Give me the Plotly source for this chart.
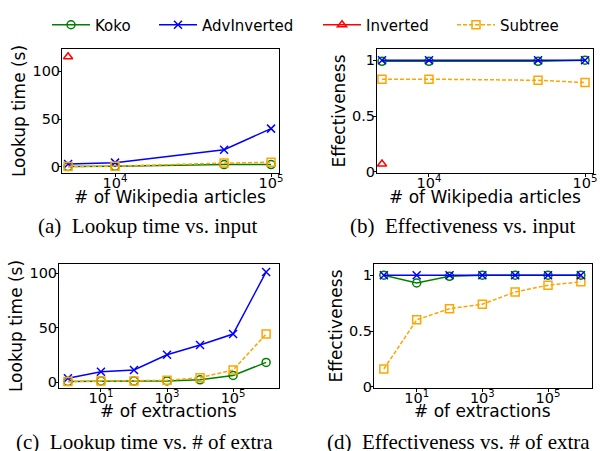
import plotly.graph_objects as go
from plotly.subplots import make_subplots

# ---- data ----
articles = [5000, 10000, 50000, 100000]
time_koko_a = [0.5, 0.7, 2.5, 2.5]
time_adv_a = [3, 4.5, 18, 40]
time_inv_a = [115, None, None, None]
time_sub_a = [0.5, 0.8, 4, 5]

eff_koko_b = [0.99, 0.99, 0.99, 1.0]
eff_adv_b = [1.0, 1.0, 1.0, 1.0]
eff_inv_b = [0.07, None, None, None]
eff_sub_b = [0.83, 0.83, 0.82, 0.80]

extractions = [1, 10, 100, 1000, 10000, 100000, 1000000]
time_koko_c = [0.5, 1, 1, 1, 2, 6, 18]
time_adv_c = [3.5, 9.5, 11, 25, 34, 44, 101]
time_sub_c = [0.5, 1, 1, 1.5, 4, 11, 44]

eff_koko_d = [1.0, 0.93, 0.99, 1.0, 1.0, 1.0, 1.0]
eff_adv_d = [1.0, 1.0, 1.0, 1.0, 1.0, 1.0, 1.0]
eff_sub_d = [0.16, 0.60, 0.70, 0.74, 0.85, 0.91, 0.94]

series_names = ["Koko", "AdvInverted", "Inverted", "Subtree"]
captions = ["(a)&nbsp; Lookup time vs. input", "(b)&nbsp; Effectiveness vs. input",
            "(c)&nbsp; Lookup time vs. # of extra", "(d)&nbsp; Effectiveness vs. # of extra"]

W, H = 600, 451
def px_x(v): return v / W
def px_y(v): return 1 - v / H

fig = make_subplots(rows=2, cols=2)

styles = {
    "Koko": dict(color="green", symbol="circle-open", dash="solid", size=8, legend="legend"),
    "AdvInverted": dict(color="blue", symbol="x-thin-open", dash="solid", size=8, legend="legend2"),
    "Inverted": dict(color="red", symbol="triangle-up-open", dash="solid", size=8, legend="legend3"),
    "Subtree": dict(color="orange", symbol="square-open", dash="4px,2px", size=8, legend="legend4"),
}

def add(name, x, y, row, col, show):
    s = styles[name]
    fig.add_trace(go.Scatter(
        x=x, y=y, name=name, mode="lines+markers", showlegend=show,
        line=dict(color=s["color"], width=1.5, dash=s["dash"]),
        marker=dict(symbol=s["symbol"], size=s["size"], color=s["color"],
                    line=dict(color=s["color"], width=1.5)),
        connectgaps=False, legendgroup=name, legend=s["legend"],
    ), row=row, col=col)

add("Koko", articles, time_koko_a, 1, 1, True)
add("AdvInverted", articles, time_adv_a, 1, 1, True)
add("Inverted", articles, time_inv_a, 1, 1, True)
add("Subtree", articles, time_sub_a, 1, 1, True)

add("Subtree", articles, eff_sub_b, 1, 2, False)
add("Koko", articles, eff_koko_b, 1, 2, False)
add("AdvInverted", articles, eff_adv_b, 1, 2, False)
add("Inverted", articles, eff_inv_b, 1, 2, False)

add("Koko", extractions, time_koko_c, 2, 1, False)
add("AdvInverted", extractions, time_adv_c, 2, 1, False)
add("Subtree", extractions, time_sub_c, 2, 1, False)

add("Subtree", extractions, eff_sub_d, 2, 2, False)
add("Koko", extractions, eff_koko_d, 2, 2, False)
add("AdvInverted", extractions, eff_adv_d, 2, 2, False)

tickfont = dict(family="DejaVu Sans", size=14.5, color="black")
titlefont = dict(family="DejaVu Sans", size=17, color="black")
common = dict(showline=True, linecolor="black", linewidth=1, mirror=True,
              ticks="outside", ticklen=3, tickcolor="black", showgrid=False,
              zeroline=False, tickfont=tickfont, automargin=False)

domains = {
    (1, 1): ((62, 279), (49, 173)),
    (1, 2): ((377, 593), (49, 173)),
    (2, 1): ((59, 279), (264, 388)),
    (2, 2): ((374, 592), (264, 388)),
}
xranges = {(1, 1): [3.660, 5.051], (1, 2): [3.667, 5.051],
           (2, 1): [-0.27, 6.39], (2, 2): [-0.30, 6.34]}
yranges = {(1, 1): [-6.3, 123], (1, 2): [-0.01, 1.1],
           (2, 1): [-5.5, 108.3], (2, 2): [-0.01, 1.1]}
xtitles = {(1, 1): "# of Wikipedia articles", (1, 2): "# of Wikipedia articles",
           (2, 1): "# of extractions", (2, 2): "# of extractions"}
xtitle_pos = {(1, 1): (170, 197), (1, 2): (485, 197),
              (2, 1): (168, 411), (2, 2): (482, 411)}
ytitles = {(1, 1): "Lookup time (s)", (1, 2): "Effectiveness",
           (2, 1): "Lookup time (s)", (2, 2): "Effectiveness"}

for (r, c), ((x0, x1), (y0, y1)) in domains.items():
    if r == 1:
        tv = [1e4, 1e5]; tt = ["10<sup>4</sup>", "10<sup>5</sup>"]
    else:
        tv = [10, 1000, 100000]; tt = ["10<sup>1</sup>", "10<sup>3</sup>", "10<sup>5</sup>"]
    fig.update_xaxes(type="log", range=xranges[(r, c)], domain=[px_x(x0), px_x(x1)],
                     tickvals=tv, ticktext=tt, ticklabelstandoff=-6,
                     row=r, col=c, **common)
    if c == 1:
        ytv = [0, 50, 100]; ytt = ["0", "50", "100"]
    else:
        ytv = [0, 0.5, 1]; ytt = ["0", "0.5", "1"]
    fig.update_yaxes(range=yranges[(r, c)], domain=[px_y(y1), px_y(y0)],
                     tickvals=ytv, ticktext=ytt, ticklabelstandoff=-5,
                     title=dict(text=ytitles[(r, c)], font=titlefont, standoff=2),
                     row=r, col=c, **common)
    tx, ty = xtitle_pos[(r, c)]
    fig.add_annotation(text=xtitles[(r, c)], x=px_x(tx), y=px_y(ty), xref="paper", yref="paper",
                       showarrow=False, xanchor="center", yanchor="middle", font=titlefont)

cap_pos = [(147, 226), (462, 226), (144, 442), (458, 442)]
for text, (cx, cy) in zip(captions, cap_pos):
    fig.add_annotation(text=text, x=px_x(cx), y=px_y(cy), xref="paper", yref="paper",
                       showarrow=False, xanchor="center", yanchor="middle",
                       font=dict(family="Liberation Serif", size=21, color="black"))

legfont = dict(family="DejaVu Sans", size=15, color="black")
leg_x = [51, 158, 322, 456]
legs = {}
for i, lx in enumerate(leg_x):
    key = "legend" if i == 0 else f"legend{i+1}"
    legs[key] = dict(orientation="h", x=px_x(lx - 4), y=px_y(25), xanchor="left", yanchor="middle",
                     font=legfont, bgcolor="rgba(0,0,0,0)", itemwidth=38, borderwidth=0)

fig.update_layout(
    width=W, height=H, margin=dict(l=0, r=0, t=0, b=0, autoexpand=False),
    paper_bgcolor="white", plot_bgcolor="white", **legs,
)

fig.write_html("out.html", config={"displayModeBar": False},
               post_script="document.body.style.margin='0';document.body.style.overflow='hidden';")
